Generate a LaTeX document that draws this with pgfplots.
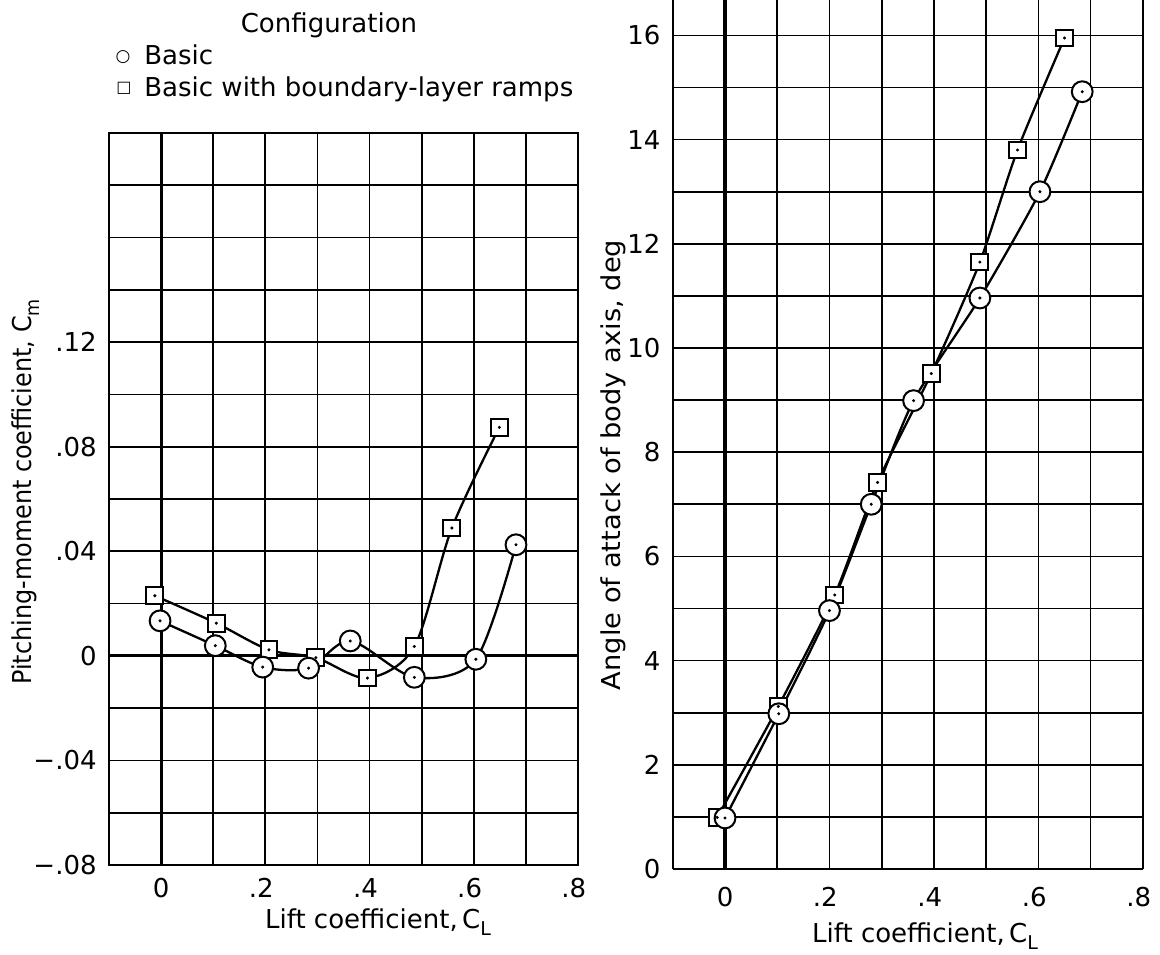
\documentclass[border=0pt]{standalone}
\usepackage{fontspec}
\setmainfont{DejaVu Sans}
\usepackage{graphicx}
\usepackage{pgfplots}
\usepackage{pgfplotstable}
\pgfplotsset{compat=1.18}

% Pitching-moment coefficient vs lift coefficient
\pgfplotstableread{
x y
-0.002 0.0134
0.104 0.0039
0.195 -0.0043
0.283 -0.0047
0.363 0.0057
0.486 -0.0082
0.604 -0.0013
0.681 0.0425
}\basicCm
\pgfplotstableread{
x y
-0.012 0.0230
0.106 0.0125
0.207 0.0023
0.297 -0.0007
0.396 -0.0085
0.486 0.0036
0.558 0.0489
0.649 0.0874
}\rampsCm
% Angle of attack vs lift coefficient
\pgfplotstableread{
x y
0.000 0.98
0.103 2.98
0.200 4.96
0.280 7.00
0.361 8.99
0.488 10.96
0.603 13.00
0.684 14.92
}\basicAl
\pgfplotstableread{
x y
-0.015 0.99
0.102 3.12
0.210 5.26
0.292 7.42
0.395 9.51
0.488 11.65
0.560 13.80
0.650 15.95
}\rampsAl

\newcommand{\sub}[1]{\raisebox{-0.55ex}{\fontsize{9.5}{10}\selectfont #1}}

\begin{document}
\begin{tikzpicture}[font=\fontsize{13}{15}\selectfont]
\useasboundingbox (0,0) rectangle (580pt,477pt);
\pgfplotsset{
  mygrid/.style={
    scale only axis,
    anchor=south west,
    xmin=-0.1, xmax=0.8,
    xtick={-0.1,0,0.1,0.2,0.3,0.4,0.5,0.6,0.7,0.8},
    xticklabels={,0,,\llap{.}2,,\llap{.}4,,\llap{.}6,,\llap{.}8},
    grid=major,
    major grid style={line width=0.85pt, black},
    major tick length=0pt,
    tick label style={inner sep=0pt, font=\fontsize{13}{15}\selectfont},
    axis line style={line width=1pt, black},
    yticklabel style={anchor=east, xshift=-6pt},
  },
  curve/.style={line width=1.15pt, black, smooth, tension=0.5},
  circ/.style={only marks, mark=*, mark size=5.2pt, mark options={fill=white, draw=black, line width=1pt}},
  sq/.style={only marks, mark=square*, mark size=4.2pt, mark options={fill=white, draw=black, line width=1pt}},
  dot/.style={only marks, mark=*, mark size=0.55pt, black},
}

% ---------------- Left panel ----------------
\begin{axis}[mygrid, at={(54.5pt,44.5pt)}, width=234.5pt, height=366pt,
  ymin=-0.08, ymax=0.2,
  ytick={-0.08,-0.06,-0.04,-0.02,0,0.02,0.04,0.06,0.08,0.1,0.12,0.14,0.16,0.18,0.2},
  yticklabels={−.08,,−.04,,0,,.04,,.08,,.12,,,,},
  xticklabel style={anchor=north, yshift=-6.5pt},
]
\addplot[line width=1.6pt, black] coordinates {(0,-0.08) (0,0.2)};
\addplot[line width=1.6pt, black] coordinates {(-0.1,0) (0.8,0)};
\addplot[curve] table {\rampsCm};
\addplot[curve] table {\basicCm};
\addplot[sq] table {\rampsCm};
\addplot[circ] table {\basicCm};
\addplot[dot] table {\rampsCm};
\addplot[dot] table {\basicCm};
\end{axis}

% ---------------- Right panel ----------------
\begin{axis}[mygrid, at={(336.4pt,42.5pt)}, width=235pt, height=434.5pt,
  axis lines*=left,
  ymin=0, ymax=16.68,
  ytick={0,1,2,3,4,5,6,7,8,9,10,11,12,13,14,15,16},
  yticklabels={0,,2,,4,,6,,8,,10,,12,,14,,16},
  xticklabel style={anchor=north, yshift=-9pt},
  curve/.append style={tension=0.4},
]
\addplot[line width=1.6pt, black] coordinates {(0,0) (0,16.68)};
\addplot[curve] table {\rampsAl};
\addplot[curve] table {\basicAl};
\addplot[sq] table {\rampsAl};
\addplot[circ] table {\basicAl};
\addplot[dot] table {\rampsAl};
\addplot[dot] table {\basicAl};
\end{axis}

% ---------------- Labels ----------------
\node[anchor=base] at (189pt,13pt) {Lift coefficient,\,C\sub{L}};
\node[anchor=base] at (462.5pt,6pt) {Lift coefficient,\,C\sub{L}};
\node[rotate=90, anchor=base] at (16pt,231pt) {\scalebox{0.92}[1]{Pitching-moment coefficient, C\sub{m}}};
\node[rotate=90, anchor=base] at (310pt,244.5pt) {\scalebox{1.05}[1]{Angle of attack of body axis, deg}};

% ---------------- Legend ----------------
\node[anchor=base] at (164.5pt,460.5pt) {Configuration};
\node[anchor=center, inner sep=0pt] at (61.5pt,448.5pt) {\fontsize{8.5}{9}\selectfont ○};
\node[anchor=base west, inner sep=0pt] at (72pt,444.5pt) {Basic};
\node[anchor=center, inner sep=0pt] at (62pt,433pt) {\fontsize{8}{9}\selectfont □};
\node[anchor=base west, inner sep=0pt] at (72pt,428.5pt) {Basic with boundary-layer ramps};
\end{tikzpicture}
\end{document}
